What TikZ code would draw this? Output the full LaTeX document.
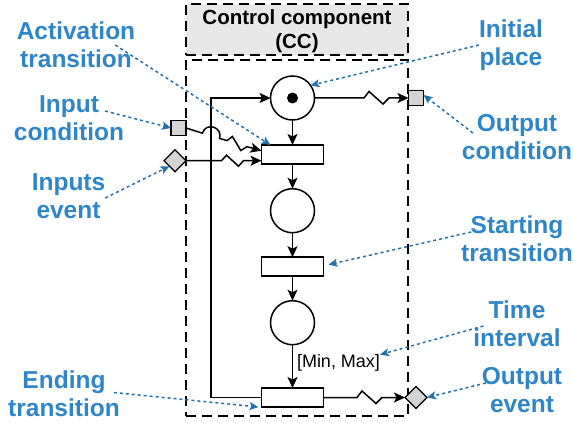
\documentclass[tikz,border=0pt]{standalone}
\usepackage{fontspec}
\setmainfont{Liberation Sans}
\usetikzlibrary{arrows.meta,shapes.geometric,calc}
\definecolor{noteblue}{RGB}{46,134,200}
\definecolor{noteline}{RGB}{36,113,170}
\definecolor{boxgray}{RGB}{232,232,232}
\definecolor{portgray}{RGB}{212,212,212}

\begin{document}
\begin{tikzpicture}[x=1pt,y=-1pt,
  every node/.style={inner sep=0pt, outer sep=0pt},
  frame/.style={draw, line width=1.5pt, dash pattern=on 10pt off 6pt},
  place/.style={circle, draw, line width=1.5pt, minimum size=44pt, fill=white},
  trans/.style={rectangle, draw, line width=1.5pt, minimum width=62pt, minimum height=19pt, fill=white},
  cport/.style={rectangle, draw, line width=1.3pt, fill=portgray, minimum size=15pt},
  eport/.style={diamond, draw, line width=1.3pt, fill=portgray, minimum width=22pt, minimum height=22pt},
  flow/.style={line width=1.5pt, -{Stealth[length=11pt,width=10pt,inset=2.5pt]}},
  note/.style={draw=noteline, line width=1.5pt, dash pattern=on 3pt off 3pt,
    -{Stealth[length=9pt,width=8pt,inset=2pt]}},
  lbl/.style={text=noteblue, font=\fontsize{24.5}{28}\selectfont\bfseries, align=center},
]
\useasboundingbox (0,0) rectangle (573,425);

% control component frames
\node[frame, fill=boxgray, minimum width=222pt, minimum height=51pt] (title) at (297,29.5) {};
\node[align=center, font=\fontsize{20.5}{24}\selectfont\bfseries] (titletext) at (297,31) {Control component\\(CC)};
\node[frame, minimum width=222pt, minimum height=356pt] (cc) at (297,238) {};

% ports on the frame
\node[cport] (ic) at (178.5,128) {};
\node[eport] (ie) at (175,160.7) {};
\node[cport] (oc) at (416,98) {};
\node[eport] (oe) at (416,397.5) {};

% places and transitions
\node[place] (p0) at (292.5,98) {};
\node[circle, fill, minimum size=11pt] (tok) at (p0) {};
\node[trans] (ta) at (292.5,154.5) {};
\node[place] (p1) at (292.5,210.7) {};
\node[trans] (ts) at (292.5,266.7) {};
\node[place] (p2) at (292.5,322.7) {};
\node[trans] (te) at (292.5,397.5) {};

% main flow
\draw[flow] (p0) -- (ta);
\draw[flow] (ta) -- (p1);
\draw[flow] (p1) -- (ts);
\draw[flow] (ts) -- (p2);
\draw[flow] (p2) -- (te);
\node[anchor=west, font=\fontsize{18}{21}\selectfont] (mm) at (297,363) {[Min, Max]};
\draw[flow] (te.west) -- ++(-50.5,0) |- (p0.west);

% signal lines with zigzag marks
\draw[flow] (p0.east) -- (364,98) -- ++(5,-6.5) -- ++(14,12.5) -- ++(6,-6) -- (oc.west);
\draw[flow] (ie.east) -- (221.5,160.7) -- ++(5,-5.5) -- ++(12,11) -- ++(5,-5.5) -- (ie.east -| ta.west);
\draw[flow] (te.east) -- (357,397.5) -- ++(5,-6.5) -- ++(14,12.5) -- ++(6,-6) -- (oe.west);
\draw[flow] (ic.east) -- (202.4,133.2) .. controls (205.8,121.7) and (223.0,126.9) .. (219.6,138.4)
  -- (227,140.6) -- (232.4,136.5) -- (240.8,150.5) -- (247.1,146.7)
  -- ($(ta.north west)!0.3!(ta.south west)$);

% annotations
\node[lbl] (act) at (76,45) {Activation\\transition};
\node[lbl] (icl) at (69,118) {Input\\condition};
\node[lbl] (iel) at (68.5,196) {Inputs\\event};
\node[lbl] (enl) at (64,393.5) {Ending\\transition};
\node[lbl] (ini) at (511,45) {Initial\\place};
\node[lbl] (ocl) at (517,137) {Output\\condition};
\node[lbl] (stl) at (517,239) {Starting\\transition};
\node[lbl] (til) at (517,324) {Time\\interval};
\node[lbl] (oel) at (522,390) {Output\\event};

\draw[note] ([xshift=-20pt]act.east) -- ([xshift=9pt]ta.north west);
\draw[note] ([xshift=-19pt,yshift=7pt]icl.east) -- (ic.west);
\draw[note] ([yshift=-2pt]iel.east) -- (ie.south west);
\draw[note] ([xshift=-6pt,yshift=1pt]enl.east) -- ([xshift=-3pt]te.south west);
\draw[note] (ini.west) -- (p0.35);
\draw[note] ([xshift=11pt,yshift=4pt]ocl.west) -- ([yshift=3pt]oc.east);
\draw[note] ([xshift=10pt,yshift=7pt]stl.west) -- ([xshift=5pt,yshift=2pt]ts.east);
\draw[note] ([xshift=10pt,yshift=-2pt]til.west) -- (mm.north east);
\draw[note] ([xshift=4pt,yshift=7pt]oel.west) -- (oe.east);
\end{tikzpicture}
\end{document}
